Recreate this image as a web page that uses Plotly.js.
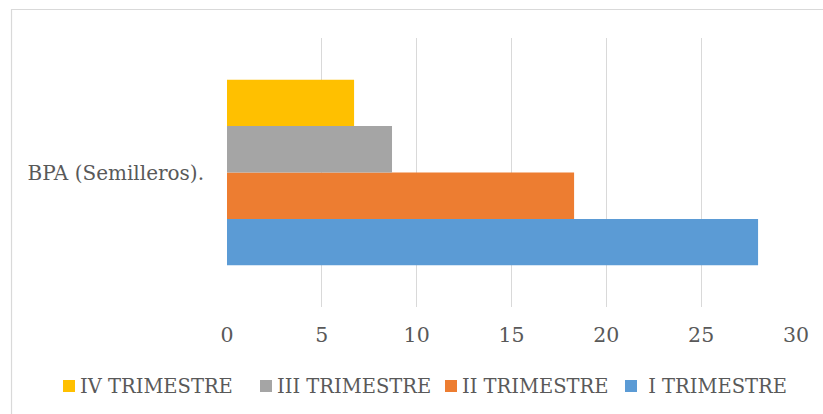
<!DOCTYPE html>
<html>
<head>
<meta charset="utf-8">
<script src="https://cdn.plot.ly/plotly-3.0.1.min.js"></script>
<style>html,body{margin:0;padding:0;background:#fff;}#chart{width:823px;height:414px;}</style>
</head>
<body>
<div id="chart"></div>
<script>
const categories = ["BPA (Semilleros)."];
const seriesNames = ["I TRIMESTRE", "II TRIMESTRE", "III TRIMESTRE", "IV TRIMESTRE"];
const valuesI = [28.0];
const valuesII = [18.3];
const valuesIII = [8.7];
const valuesIV = [6.7];
const xTicks = [0, 5, 10, 15, 20, 25, 30];

const colors = ["#5B9BD5", "#ED7D31", "#A5A5A5", "#FFC000"];
const allValues = [valuesI, valuesII, valuesIII, valuesIV];

const traces = seriesNames.map((name, i) => ({
  type: "bar",
  orientation: "h",
  name: name,
  y: categories,
  x: allValues[i],
  marker: {color: colors[i], line: {width: 0}},
  hoverinfo: "x+name"
}));

function mkFont(sz){ return {family: "DejaVu Serif", size: sz || 20, color: "#595959"}; }

const plotL = 227, plotW = 569, plotT = 38, plotH = 269;
const legendSquareX = [63, 260, 445, 625];
const legendY = 386;
const toPX = px => (px - plotL) / plotW;
const toPY = py => (plotT + plotH - py) / plotH;
const order = [3, 2, 1, 0];
const shapes = [{
  type: "rect", xref: "paper", yref: "paper",
  x0: -0.3787, x1: 1.3, y0: -0.6, y1: 1.106,
  line: {color: "#d9d9d9", width: 1.2}, fillcolor: "rgba(0,0,0,0)", layer: "below"
}];
const annotations = [];
order.forEach((si, k) => {
  const sx = legendSquareX[k];
  shapes.push({type: "rect", xref: "paper", yref: "paper",
    x0: toPX(sx), x1: toPX(sx + 12), y0: toPY(legendY + 6), y1: toPY(legendY - 6),
    line: {width: 0}, fillcolor: colors[si]});
  annotations.push({text: (si === 0 ? " " : "") + seriesNames[si], xref: "paper", yref: "paper",
    x: toPX(sx + 15), y: toPY(legendY), xanchor: "left", yanchor: "middle",
    showarrow: false, font: mkFont(19.5)});
});

const layout = {
  width: 823, height: 414,
  margin: {l: 227, r: 27, t: 38, b: 107, autoexpand: false},
  paper_bgcolor: "#fff", plot_bgcolor: "#fff",
  barmode: "group", bargap: 0.31, bargroupgap: 0,
  font: mkFont(20),
  showlegend: false,
  xaxis: {
    range: [0, 30], tickvals: xTicks, ticktext: xTicks.map(String),
    showgrid: true, gridcolor: "#d9d9d9", gridwidth: 1,
    zeroline: false, showline: false, ticks: "",
    tickfont: mkFont(20.5), ticklabelstandoff: 13, fixedrange: true
  },
  yaxis: {
    type: "category", showgrid: false, zeroline: false, showline: false,
    ticks: "", tickfont: mkFont(20), ticklabelstandoff: 22, fixedrange: true
  },
  shapes: shapes,
  annotations: annotations
};

Plotly.newPlot("chart", traces, layout, {displayModeBar: false, staticPlot: true});
</script>
</body>
</html>
